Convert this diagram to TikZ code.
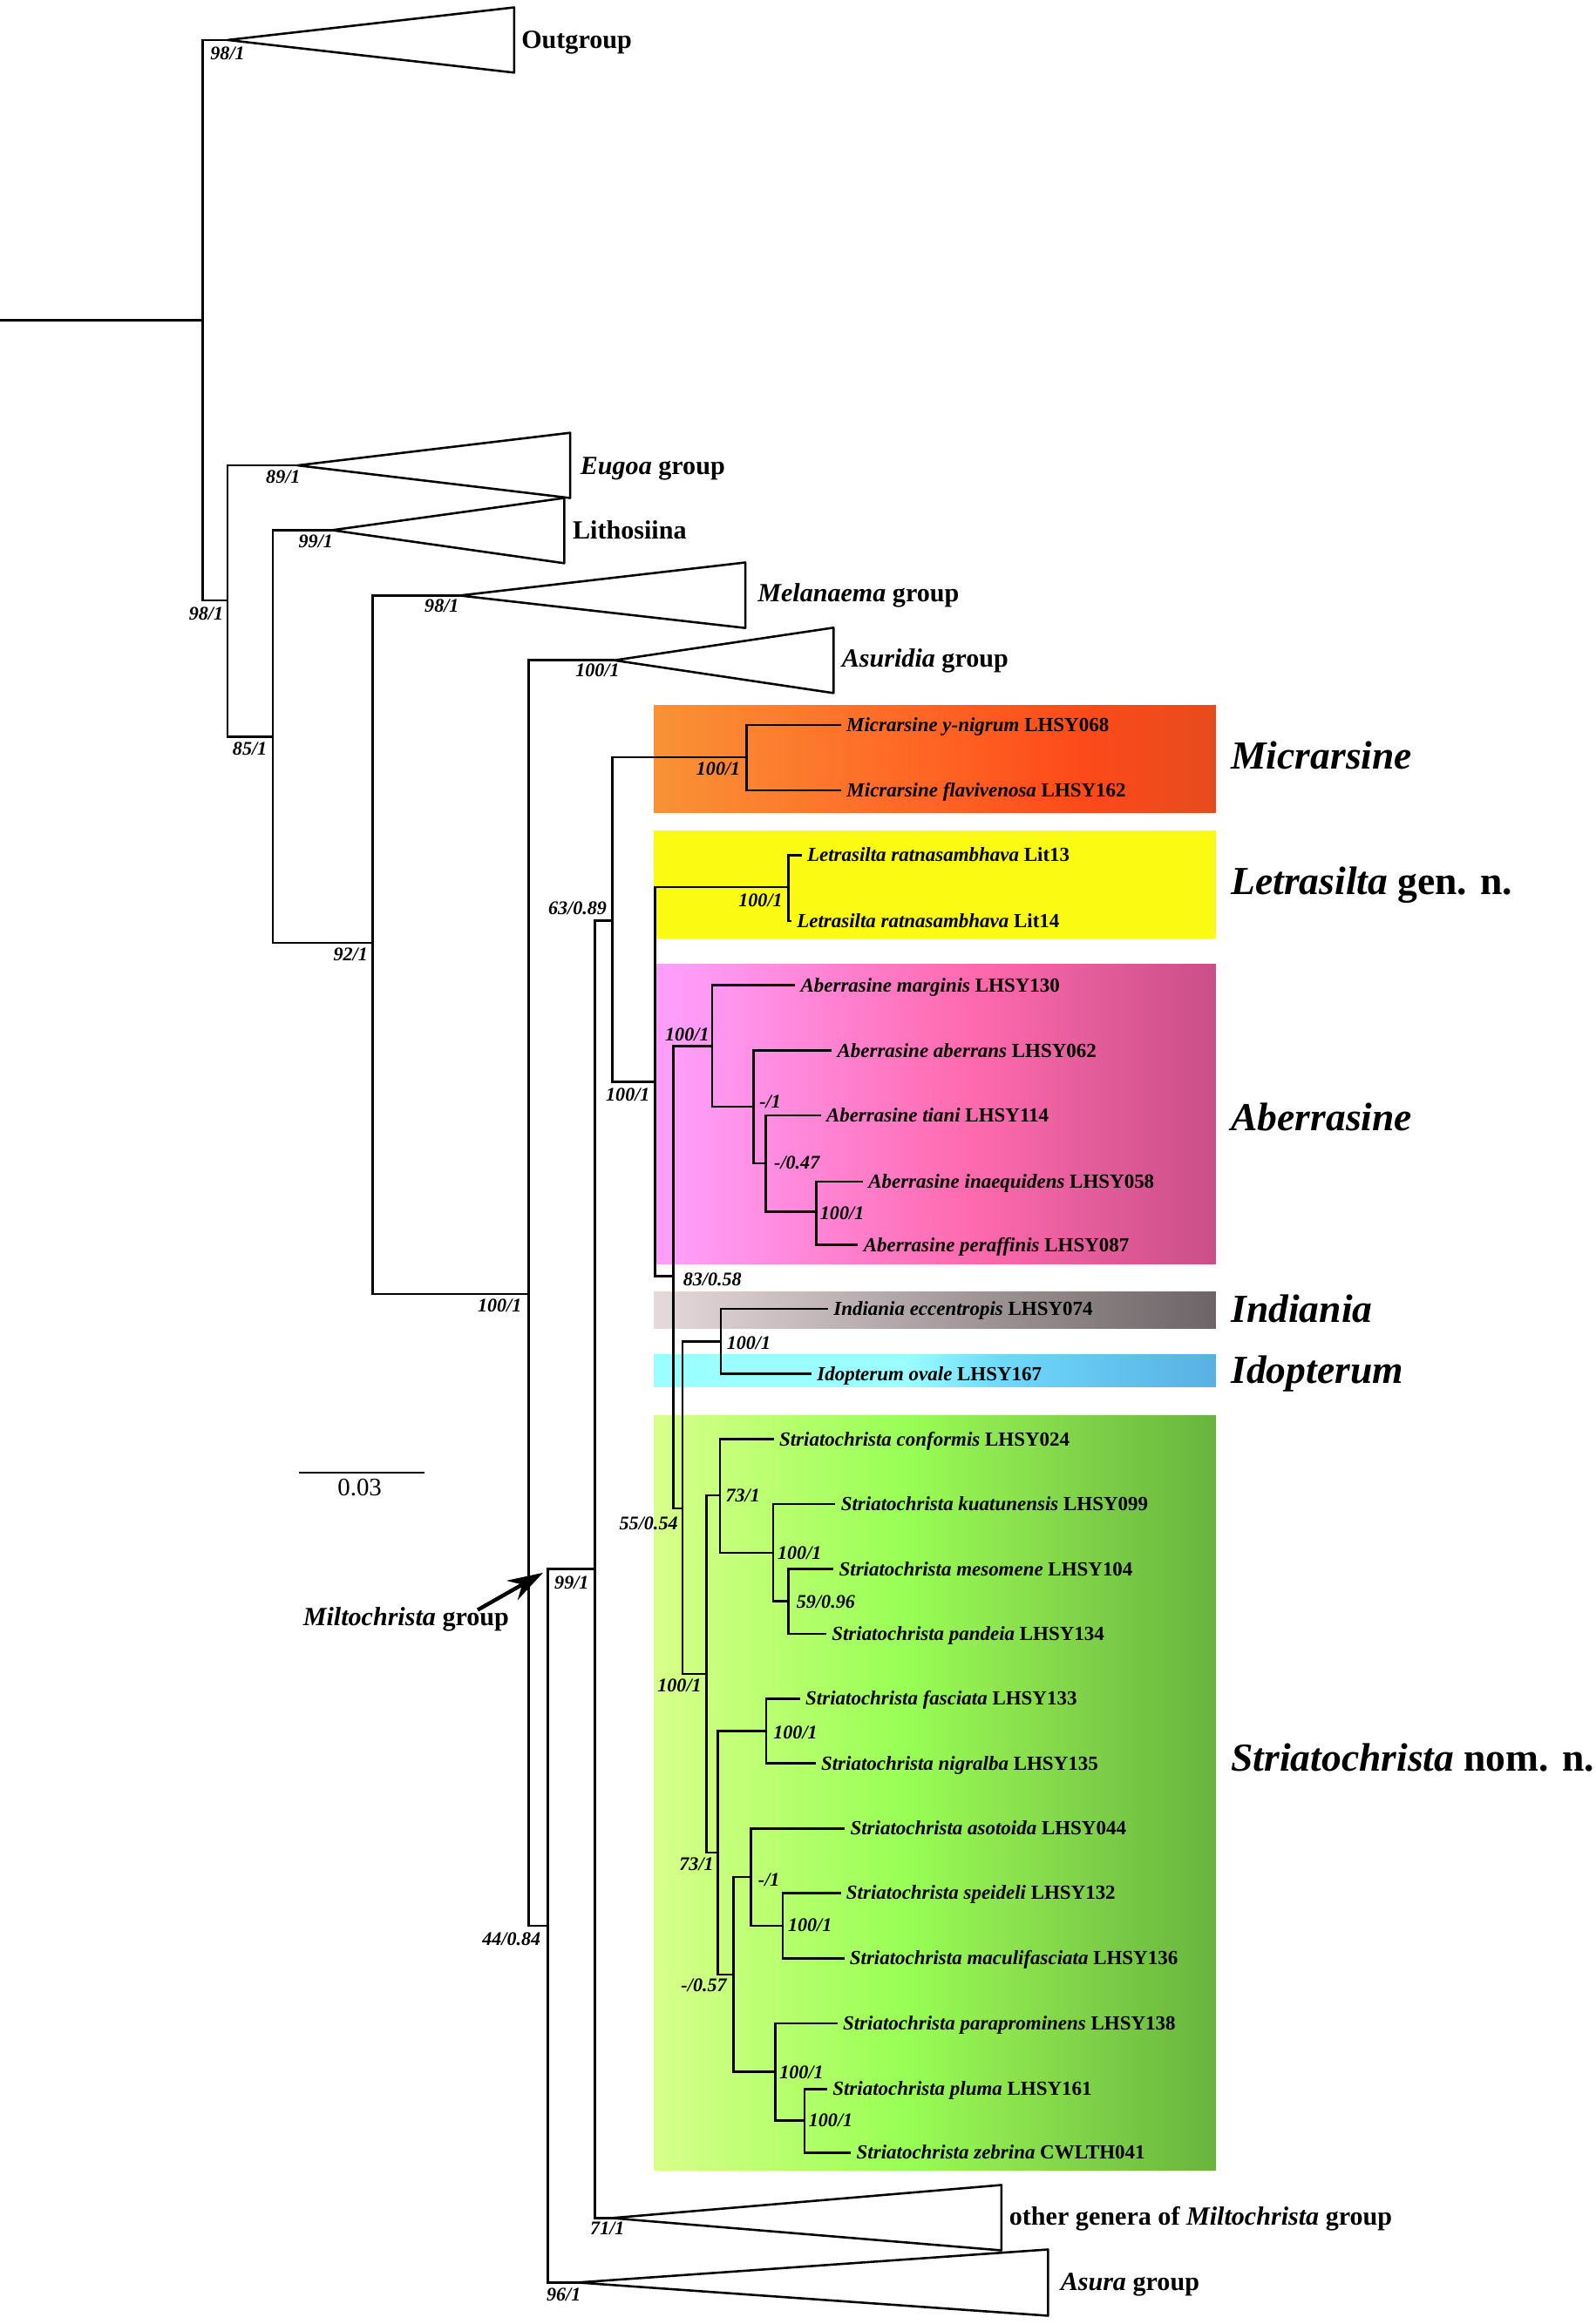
\documentclass[tikz,border=0pt]{standalone}
\usepackage{fontspec}
\setmainfont{Liberation Serif}
\usetikzlibrary{arrows.meta}
\definecolor{micA}{RGB}{249,146,54}\definecolor{micB}{RGB}{255,100,36}
\definecolor{micC}{RGB}{253,74,26}\definecolor{micD}{RGB}{230,75,30}
\definecolor{letY}{RGB}{250,250,18}
\definecolor{abeA}{RGB}{255,158,250}\definecolor{abeB}{RGB}{255,106,174}
\definecolor{abeC}{RGB}{201,79,136}
\definecolor{indA}{RGB}{230,217,220}\definecolor{indB}{RGB}{108,100,102}
\definecolor{idoA}{RGB}{156,255,255}\definecolor{idoB}{RGB}{110,216,250}
\definecolor{idoC}{RGB}{88,176,227}
\definecolor{strA}{RGB}{216,255,138}\definecolor{strB}{RGB}{153,255,85}
\definecolor{strC}{RGB}{139,226,78}\definecolor{strD}{RGB}{104,180,62}
\pgfdeclarehorizontalshading{micshade}{100bp}{color(0bp)=(micA); color(25bp)=(micA); color(50bp)=(micB); color(63bp)=(micC); color(75bp)=(micD); color(100bp)=(micD)}
\pgfdeclarehorizontalshading{abeshade}{100bp}{color(0bp)=(abeA); color(27bp)=(abeA); color(53bp)=(abeB); color(75bp)=(abeC); color(100bp)=(abeC)}
\pgfdeclarehorizontalshading{indshade}{100bp}{color(0bp)=(indA); color(25bp)=(indA); color(75bp)=(indB); color(100bp)=(indB)}
\pgfdeclarehorizontalshading{idoshade}{100bp}{color(0bp)=(idoA); color(25bp)=(idoA); color(47bp)=(idoA); color(56bp)=(idoB); color(75bp)=(idoC); color(100bp)=(idoC)}
\pgfdeclarehorizontalshading{strshade}{100bp}{color(0bp)=(strA); color(25bp)=(strA); color(47bp)=(strB); color(57bp)=(strC); color(75bp)=(strD); color(100bp)=(strD)}
\newcommand\taxfont{\fontsize{13.5}{15}\selectfont\bfseries}
\begin{document}
\begin{tikzpicture}[x=1pt,y=-1pt,line width=1.5pt,
    taxon/.style={anchor=west,inner xsep=3pt,inner ysep=0pt,text height=8.9pt,text depth=0pt,font=\taxfont},
    boot/.style={inner sep=0pt,text height=8.6pt,text depth=0pt,font=\fontsize{13}{14}\selectfont\bfseries\itshape},
    grp/.style={anchor=base west,inner sep=0pt,font=\fontsize{17.7}{19}\selectfont\bfseries},
    clade/.style={anchor=base west,inner sep=0pt,font=\fontsize{26.8}{28}\selectfont\bfseries},
    tri/.style={line join=round}]
    \fill[white] (0,0) rectangle (1076,1568); \useasboundingbox (0,0) rectangle (1076,1568);
    \shade[shading=micshade] (441,476) rectangle (820,548);
    \fill[letY] (441,560) rectangle (820,633.4);
    \shade[shading=abeshade] (441,650.6) rectangle (820,852.5);
    \shade[shading=indshade] (441,871.6) rectangle (820,896.5);
    \shade[shading=idoshade] (441,914) rectangle (820,935.7);
    \shade[shading=strshade] (441,955) rectangle (820,1464.2);
    \coordinate (root) at (0,216); \coordinate (n0) at (136.6,216);
    \coordinate (og) at (153.5,27); \coordinate (n1) at (153.5,405);
    \coordinate (eug) at (200.7,314); \coordinate (n2) at (183.9,497);
    \coordinate (lit) at (224,357.7); \coordinate (n3) at (251.3,636);
    \coordinate (mel) at (310,401.8); \coordinate (n4) at (356.5,873);
    \coordinate (asu) at (414.3,445.5); \coordinate (n5) at (369.6,1299.2);
    \coordinate (asr) at (389.5,1540); \coordinate (n6) at (401.4,1058.7);
    \coordinate (oth) at (412.5,1496.5); \coordinate (n7) at (412.9,621);
    \coordinate (mic) at (503.4,510.9); \coordinate (n8) at (441.8,730);
    \coordinate (let) at (531.8,598.4); \coordinate (n9) at (454.1,861);
    \coordinate (abe) at (480.3,705.8); \coordinate (abe2) at (508.3,746.6);
    \coordinate (abe3) at (516.5,785); \coordinate (abe4) at (550.6,817.6);
    \coordinate (n10) at (460.3,1017.6); \coordinate (ind) at (486.2,905.2);
    \coordinate (n11) at (476.6,1129.5); \coordinate (str1) at (485.6,1008.8);
    \coordinate (str2) at (521.4,1047.6); \coordinate (str3) at (531.8,1080.3);
    \coordinate (n12) at (484,1250); \coordinate (str4) at (516.8,1168);
    \coordinate (n13) at (494.7,1332.2); \coordinate (str5) at (506.5,1266.4);
    \coordinate (str6) at (527.9,1299.2); \coordinate (str7) at (523,1397.7);
    \coordinate (str8) at (542.6,1430.6);
    \draw[tri] (og) -- (346.8,5) -- (346.8,49) -- cycle;
    \draw[tri] (eug) -- (384.6,292) -- (384.6,336) -- cycle;
    \draw[tri] (lit) -- (380.6,336) -- (380.6,380) -- cycle;
    \draw[tri] (mel) -- (502.7,379.5) -- (502.7,423.7) -- cycle;
    \draw[tri] (asu) -- (562.2,423.5) -- (562.2,467.6) -- cycle;
    \draw[tri] (oth) -- (675.5,1474.2) -- (675.5,1518.3) -- cycle;
    \draw[tri] (asr) -- (706.9,1517.7) -- (706.9,1562.4) -- cycle;
    \node[grp] (ogL) at (351,32.5) {Outgroup};
    \node[grp] (eugL) at (390.7,320.2) {\textit{Eugoa} group};
    \node[grp] (litL) at (385.6,363.7) {Lithosiina};
    \node[grp] (melL) at (510.3,406) {\textit{Melanaema} group};
    \node[grp] (asuL) at (567.1,450) {\textit{Asuridia} group};
    \node[grp] (othL) at (680,1501.5) {other genera of \textit{Miltochrista} group};
    \node[grp] (asrL) at (714.6,1545.5) {\textit{Asura} group};
    \node[grp] (milL) at (203.7,1097) {\textit{Miltochrista} group};
    \node[taxon] (tYnig) at (567.2,489.1) {\textit{Micrarsine y-nigrum} LHSY068};
    \node[taxon] (tFlav) at (567.4,533.2) {\textit{Micrarsine flavivenosa} LHSY162};
    \node[taxon] (tLit13) at (540.7,577) {\textit{Letrasilta ratnasambhava} Lit13};
    \node[taxon] (tLit14) at (533.8,621.5) {\textit{Letrasilta ratnasambhava} Lit14};
    \node[taxon] (tMarg) at (536.3,664.8) {\textit{Aberrasine marginis} LHSY130};
    \node[taxon] (tAber) at (561,708.8) {\textit{Aberrasine aberrans} LHSY062};
    \node[taxon] (tTian) at (553.6,752.5) {\textit{Aberrasine tiani} LHSY114};
    \node[taxon] (tInae) at (582,797.3) {\textit{Aberrasine inaequidens} LHSY058};
    \node[taxon] (tPera) at (578.8,839.9) {\textit{Aberrasine peraffinis} LHSY087};
    \node[taxon] (tInd) at (558.5,883) {\textit{Indiania eccentropis} LHSY074};
    \node[taxon] (tIdo) at (547.4,926.9) {\textit{Idopterum ovale} LHSY167};
    \node[taxon] (tConf) at (521.9,971) {\textit{Striatochrista conformis} LHSY024};
    \node[taxon] (tKuat) at (563.5,1014.7) {\textit{Striatochrista kuatunensis} LHSY099};
    \node[taxon] (tMeso) at (562.2,1058.7) {\textit{Striatochrista mesomene} LHSY104};
    \node[taxon] (tPand) at (557.3,1102.4) {\textit{Striatochrista pandeia} LHSY134};
    \node[taxon] (tFasc) at (539.6,1146.1) {\textit{Striatochrista fasciata} LHSY133};
    \node[taxon] (tNigr) at (550.1,1189.8) {\textit{Striatochrista nigralba} LHSY135};
    \node[taxon] (tAsot) at (569.8,1233.6) {\textit{Striatochrista asotoida} LHSY044};
    \node[taxon] (tSpei) at (567.1,1277.2) {\textit{Striatochrista speideli} LHSY132};
    \node[taxon] (tMacu) at (569.4,1321.2) {\textit{Striatochrista maculifasciata} LHSY136};
    \node[taxon] (tPara) at (564.8,1365.2) {\textit{Striatochrista paraprominens} LHSY138};
    \node[taxon] (tPlum) at (557.9,1409.4) {\textit{Striatochrista pluma} LHSY161};
    \node[taxon] (tZebr) at (574,1452.3) {\textit{Striatochrista zebrina} CWLTH041};
    \draw (root) -- (n0);
    \draw (n0) |- (og); \draw (n0) |- (n1); \draw (n1) |- (eug); \draw (n1) |- (n2);
    \draw (n2) |- (lit); \draw (n2) |- (n3); \draw (n3) |- (mel); \draw (n3) |- (n4);
    \draw (n4) |- (asu); \draw (n4) |- (n5); \draw (n5) |- (n6); \draw (n5) |- (asr);
    \draw (n6) |- (n7); \draw (n6) |- (oth); \draw (n7) |- (mic); \draw (n7) |- (n8);
    \draw (mic) |- (tYnig.west); \draw (mic) |- (tFlav.west);
    \draw (n8) |- (let); \draw (n8) |- (n9);
    \draw (let) |- (tLit13.west); \draw (let) |- (tLit14.west);
    \draw (n9) |- (abe); \draw (n9) |- (n10);
    \draw (abe) |- (tMarg.west); \draw (abe) |- (abe2);
    \draw (abe2) |- (tAber.west); \draw (abe2) |- (abe3);
    \draw (abe3) |- (tTian.west); \draw (abe3) |- (abe4);
    \draw (abe4) |- (tInae.west); \draw (abe4) |- (tPera.west);
    \draw (n10) |- (ind); \draw (n10) |- (n11);
    \draw (ind) |- (tInd.west); \draw (ind) |- (tIdo.west);
    \draw (n11) |- (str1); \draw (n11) |- (n12);
    \draw (str1) |- (tConf.west); \draw (str1) |- (str2);
    \draw (str2) |- (tKuat.west); \draw (str2) |- (str3);
    \draw (str3) |- (tMeso.west); \draw (str3) |- (tPand.west);
    \draw (n12) |- (str4); \draw (n12) |- (n13);
    \draw (str4) |- (tFasc.west); \draw (str4) |- (tNigr.west);
    \draw (n13) |- (str5); \draw (n13) |- (str7);
    \draw (str5) |- (tAsot.west); \draw (str5) |- (str6);
    \draw (str6) |- (tSpei.west); \draw (str6) |- (tMacu.west);
    \draw (str7) |- (tPara.west); \draw (str7) |- (str8);
    \draw (str8) |- (tPlum.west); \draw (str8) |- (tZebr.west);
    \node[boot] (b1) at (153.5,36) {98/1}; \node[boot] (b2) at (139,414) {98/1};
    \node[boot] (b3) at (191,321.5) {89/1}; \node[boot] (b4) at (213,365) {99/1};
    \node[boot] (b5) at (168.5,505) {85/1}; \node[boot] (b6) at (236.5,644) {92/1};
    \node[boot] (b7) at (298,409) {98/1}; \node[boot] (b8) at (403,452.5) {100/1};
    \node[boot] (b9) at (337,881) {100/1}; \node[boot] (b10) at (389.5,613) {63/0.89};
    \node[boot] (b11) at (484.5,518.5) {100/1}; \node[boot] (b12) at (423.5,738.6) {100/1};
    \node[boot] (b13) at (513,607.6) {100/1}; \node[boot] (b14) at (463.5,698) {100/1};
    \node[boot] (b15) at (519.5,743.4) {-/1}; \node[boot] (b16) at (537.5,784.2) {-/0.47};
    \node[boot] (b17) at (568,818.4) {100/1}; \node[boot] (b18) at (480.5,862.9) {83/0.58};
    \node[boot] (b19) at (505,906) {100/1}; \node[boot] (b20) at (437.5,1028) {55/0.54};
    \node[boot] (b21) at (501,1008.8) {73/1}; \node[boot] (b22) at (539.3,1048) {100/1};
    \node[boot] (b23) at (557,1080.7) {59/0.96}; \node[boot] (b24) at (458.3,1137.3) {100/1};
    \node[boot] (b25) at (536.5,1168.8) {100/1}; \node[boot] (b26) at (469.8,1257.8) {73/1};
    \node[boot] (b27) at (518.7,1268) {-/1}; \node[boot] (b28) at (546.3,1299) {100/1};
    \node[boot] (b29) at (474.8,1339.3) {-/0.57}; \node[boot] (b30) at (540.6,1398.1) {100/1};
    \node[boot] (b31) at (560.3,1430.6) {100/1}; \node[boot] (b32) at (385.6,1067.5) {99/1};
    \node[boot] (b33) at (345,1308) {44/0.84}; \node[boot] (b34) at (409.7,1503.5) {71/1};
    \node[boot] (b35) at (380.2,1548) {96/1};
    \node[clade] (cMic) at (829.6,519) {\itshape Micrarsine};
    \node[clade] (cLet) at (829.6,603.3) {\textit{Letrasilta} gen. n.};
    \node[clade] (cAbe) at (829.6,762.6) {\itshape Aberrasine};
    \node[clade] (cInd) at (829.6,892.2) {\itshape Indiania};
    \node[clade] (cIdo) at (829.6,933.3) {\itshape Idopterum};
    \node[clade] (cStr) at (829.6,1195) {\textit{Striatochrista} nom. n.};
    \coordinate (barL) at (201.4,993.7); \coordinate (barR) at (286.4,993.7);
    \draw[line width=1.1pt] (barL) -- (barR);
    \node[anchor=base,inner sep=0pt,font=\fontsize{17}{18}\selectfont] (barT) at (242.6,1009.2) {0.03};
    \coordinate (arrTail) at (322.2,1086.2); \coordinate (arrTip) at (366.3,1061.1);
    \draw[line width=2.6pt,-{Stealth[length=24pt,width=15pt]}] (arrTail) -- (arrTip);
\end{tikzpicture}
\end{document}
